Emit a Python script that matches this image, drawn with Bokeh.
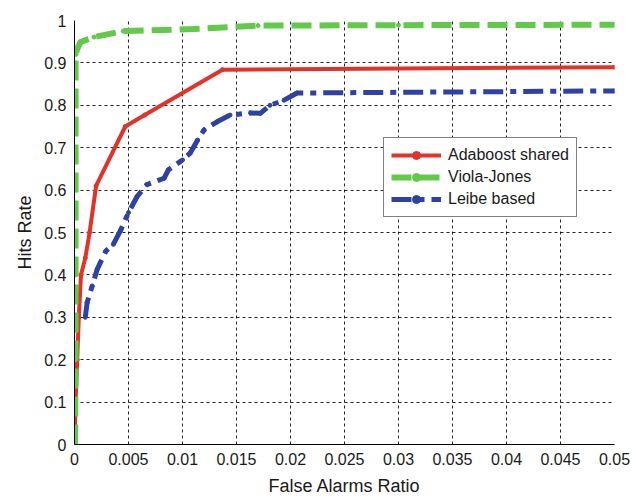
from bokeh.plotting import figure
from bokeh.models import FixedTicker, Legend, LegendItem, Range1d
from bokeh.embed import file_html
from bokeh.resources import INLINE

# Data
ada_x = [0, 0.0001, 0.00025, 0.0004, 0.0006, 0.001, 0.0014, 0.002, 0.0047, 0.0065, 0.0137, 0.05]
ada_y = [0, 0.10, 0.20, 0.30, 0.40, 0.44, 0.50, 0.61, 0.75, 0.777, 0.884, 0.89]

vj_x = [0.00005, 0.0001, 0.0001, 0.0001, 0.0001, 0.0001, 0.00015, 0.0002, 0.00055, 0.0018, 0.0045, 0.011, 0.017, 0.03, 0.05]
vj_y = [0, 0.2, 0.4, 0.6, 0.8, 0.9, 0.92, 0.93, 0.949, 0.961, 0.975, 0.98, 0.988, 0.989, 0.99]

leibe_x = [0.001, 0.00117, 0.00164, 0.0021, 0.0029, 0.0036, 0.0043, 0.005, 0.0058, 0.0067,
           0.0083, 0.0087, 0.01, 0.0107, 0.0114, 0.012, 0.0132, 0.0144, 0.0163, 0.0172,
           0.0181, 0.0194, 0.0206, 0.05]
leibe_y = [0.30, 0.335, 0.374, 0.413, 0.456, 0.472, 0.507, 0.547, 0.585, 0.613,
           0.628, 0.648, 0.671, 0.687, 0.718, 0.742, 0.761, 0.777, 0.782, 0.781,
           0.80, 0.812, 0.829, 0.834]

x_ticks = [0, 0.005, 0.01, 0.015, 0.02, 0.025, 0.03, 0.035, 0.04, 0.045, 0.05]
x_labels = ["0", "0.005", "0.01", "0.015", "0.02", "0.025", "0.03", "0.035", "0.04", "0.045", "0.05"]
y_ticks = [0, 0.1, 0.2, 0.3, 0.4, 0.5, 0.6, 0.7, 0.8, 0.9, 1.0]
y_labels = ["0", "0.1", "0.2", "0.3", "0.4", "0.5", "0.6", "0.7", "0.8", "0.9", "1"]

series_names = ["Adaboost shared", "Viola-Jones", "Leibe based"]

RED = "#E2332A"
GREEN = "#62C94B"
BLUE = "#2D42A3"
FONT = "Liberation Sans"

p = figure(width=636, height=498, output_backend="svg", toolbar_location=None,
           x_range=Range1d(0, 0.05), y_range=Range1d(0, 1),
           min_border_left=74, min_border_right=22, min_border_top=20, min_border_bottom=52)
p.outline_line_color = None
p.background_fill_color = "white"
p.border_fill_color = "white"

# grid
for g in (p.xgrid, p.ygrid):
    g.grid_line_color = "black"
    g.grid_line_dash = "3 3"
    g.grid_line_width = 1
    g.grid_line_alpha = 0.85

p.xaxis.ticker = FixedTicker(ticks=x_ticks)
p.yaxis.ticker = FixedTicker(ticks=y_ticks)
p.xaxis.major_label_overrides = {t: l for t, l in zip(x_ticks, x_labels)}
p.yaxis.major_label_overrides = {t: l for t, l in zip(y_ticks, y_labels)}

for ax in (p.xaxis, p.yaxis):
    ax.axis_line_color = "black"
    ax.axis_line_width = 1
    ax.major_tick_out = 0
    ax.major_tick_in = 0
    ax.minor_tick_line_color = None
    ax.major_label_text_font = FONT
    ax.major_label_text_font_size = "16px"
    ax.major_label_text_color = "#1a1a1a"
    ax.axis_label_text_font = FONT
    ax.axis_label_text_font_size = "18px"
    ax.axis_label_text_font_style = "normal"
    ax.axis_label_text_color = "#1a1a1a"

p.xaxis.axis_label = "False Alarms Ratio"
p.yaxis.axis_label = "Hits Rate"
p.xaxis.major_label_standoff = 8
p.yaxis.major_label_standoff = 8
p.xaxis.axis_label_standoff = 8
p.yaxis.axis_label_standoff = 6

r_ada = p.line(ada_x, ada_y, line_color=RED, line_width=4)
s_ada = p.scatter(ada_x, ada_y, size=4, color=RED)
r_vj = p.line(vj_x, vj_y, line_color=GREEN, line_width=6, line_dash="20 8")
s_vj = p.scatter(vj_x, vj_y, size=4, color=GREEN)
r_lb = p.line(leibe_x, leibe_y, line_color=BLUE, line_width=5, line_dash="20 7 6 7")
s_lb = p.scatter(leibe_x, leibe_y, size=4, color=BLUE)

legend = Legend(items=[
    LegendItem(label=series_names[0], renderers=[r_ada, s_ada]),
    LegendItem(label=series_names[1], renderers=[r_vj, s_vj]),
    LegendItem(label=series_names[2], renderers=[r_lb, s_lb]),
], location=(309, 227))
legend.label_text_font = FONT
legend.label_text_font_size = "16px"
legend.label_text_color = "#1a1a1a"
legend.glyph_width = 50
legend.glyph_height = 20
legend.label_height = 20
legend.label_standoff = 7
legend.spacing = 2
legend.padding = 7
legend.margin = 0
legend.border_line_color = "black"
legend.border_line_width = 1
legend.background_fill_color = "white"
legend.background_fill_alpha = 1
p.add_layout(legend, "center")

open("out.html", "w").write(file_html(p, INLINE))
